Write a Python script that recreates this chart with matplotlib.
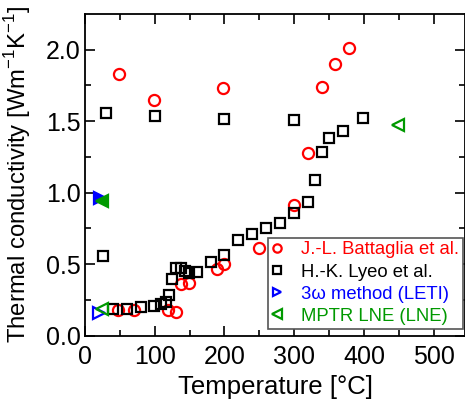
import matplotlib
matplotlib.use("Agg")
import matplotlib.pyplot as plt

plt.rcParams['font.family'] = ['Liberation Sans', 'DejaVu Sans']
plt.rcParams['mathtext.fontset'] = 'custom'
plt.rcParams['mathtext.rm'] = 'Liberation Sans'

# Battaglia et al. (red circles)
bat_T = [49, 99, 198, 340, 359, 379, 320, 300, 250, 200, 190, 149, 138, 130, 119, 48, 70]
bat_k = [1.83, 1.65, 1.73, 1.74, 1.90, 2.01, 1.28, 0.915, 0.61, 0.50, 0.47, 0.37, 0.36, 0.163, 0.18, 0.18, 0.18]

# Lyeo et al. (black squares)
lyeo_T = [30, 100, 200, 300, 399, 370, 350, 340, 330, 320, 300, 280, 260, 240, 220, 200, 181,
          160, 149, 143, 137, 130, 125, 120, 116, 109, 99, 80, 60, 40, 26]
lyeo_k = [1.557, 1.534, 1.515, 1.51, 1.525, 1.43, 1.38, 1.283, 1.087, 0.936, 0.86, 0.79, 0.75,
          0.712, 0.668, 0.566, 0.513, 0.445, 0.436, 0.454, 0.473, 0.473, 0.396, 0.286, 0.235,
          0.221, 0.207, 0.198, 0.184, 0.184, 0.557]

# 3omega method (LETI)
leti_T = [22, 20]
leti_k = [0.96, 0.16]

# MPTR LNE (LNE)
lne_T = [25, 24, 449]
lne_k = [0.94, 0.19, 1.476]

fig = plt.figure(figsize=(4.65, 4.01), dpi=100)
ax = fig.add_axes([85/465, (401-335.7)/401, (465-85)/465, (335.7-14)/401])

ax.plot(bat_T, bat_k, 'o', ms=8, mfc='none', mec='#ff0000', mew=1.6, ls='none',
        label='J.-L. Battaglia et al.')
ax.plot(lyeo_T, lyeo_k, 's', ms=7, mfc='none', mec='black', mew=1.6, ls='none',
        label='H.-K. Lyeo et al.')
ax.plot(leti_T[:1], leti_k[:1], '>', ms=8, mfc='#0000ff', mec='#0000ff', mew=1.6, ls='none')
ax.plot(leti_T[1:], leti_k[1:], '>', ms=8, mfc='none', mec='#0000ff', mew=1.6, ls='none',
        label='3\u03c9 method (LETI)')
ax.plot(lne_T[:1], lne_k[:1], '<', ms=9, mfc='#009900', mec='#009900', mew=1.6, ls='none')
ax.plot(lne_T[1:], lne_k[1:], '<', ms=9, mfc='none', mec='#009900', mew=1.6, ls='none',
        label='MPTR LNE (LNE)')

ax.set_xlim(0, 545)
ax.set_ylim(0, 2.25)
ax.set_xticks([0, 100, 200, 300, 400, 500])
ax.set_xticks([50, 150, 250, 350, 450], minor=True)
ax.set_yticks([0.0, 0.5, 1.0, 1.5, 2.0])
ax.set_yticklabels(['0.0', '0.5', '1.0', '1.5', '2.0'])
ax.set_yticks([0.25, 0.75, 1.25, 1.75], minor=True)
ax.tick_params(which='both', direction='in', top=True, right=True, labelsize=18, width=1.2)
ax.tick_params(which='major', length=7)
ax.tick_params(axis='y', which='major', pad=3)
ax.tick_params(axis='x', which='major', pad=7)
ax.tick_params(which='minor', length=4)
for s in ax.spines.values():
    s.set_linewidth(1.3)

ax.set_xlabel('Temperature [\u00b0C]', fontsize=18.5, labelpad=4)
ax.set_ylabel('Thermal conductivity [Wm$^{-1}$K$^{-1}$]', fontsize=17.2)
ax.yaxis.set_label_coords(-52/380, 0.5 + 1/321.7)

leg = ax.legend(loc='upper left', bbox_to_anchor=(268/465, (401-237.7)/401),
                bbox_transform=fig.transFigure, fontsize=13.3, frameon=True, fancybox=False,
                edgecolor='#555555', framealpha=1, borderpad=0.2, labelspacing=0.28,
                handlelength=0.6, handletextpad=1.0, borderaxespad=0, markerscale=0.75)
leg.get_frame().set_linewidth(1.2)
cols = ['#ff0000', 'black', '#0000ff', '#009900']
for t, c in zip(leg.get_texts(), cols):
    t.set_color(c)

fig.savefig('out.png', dpi=100)
